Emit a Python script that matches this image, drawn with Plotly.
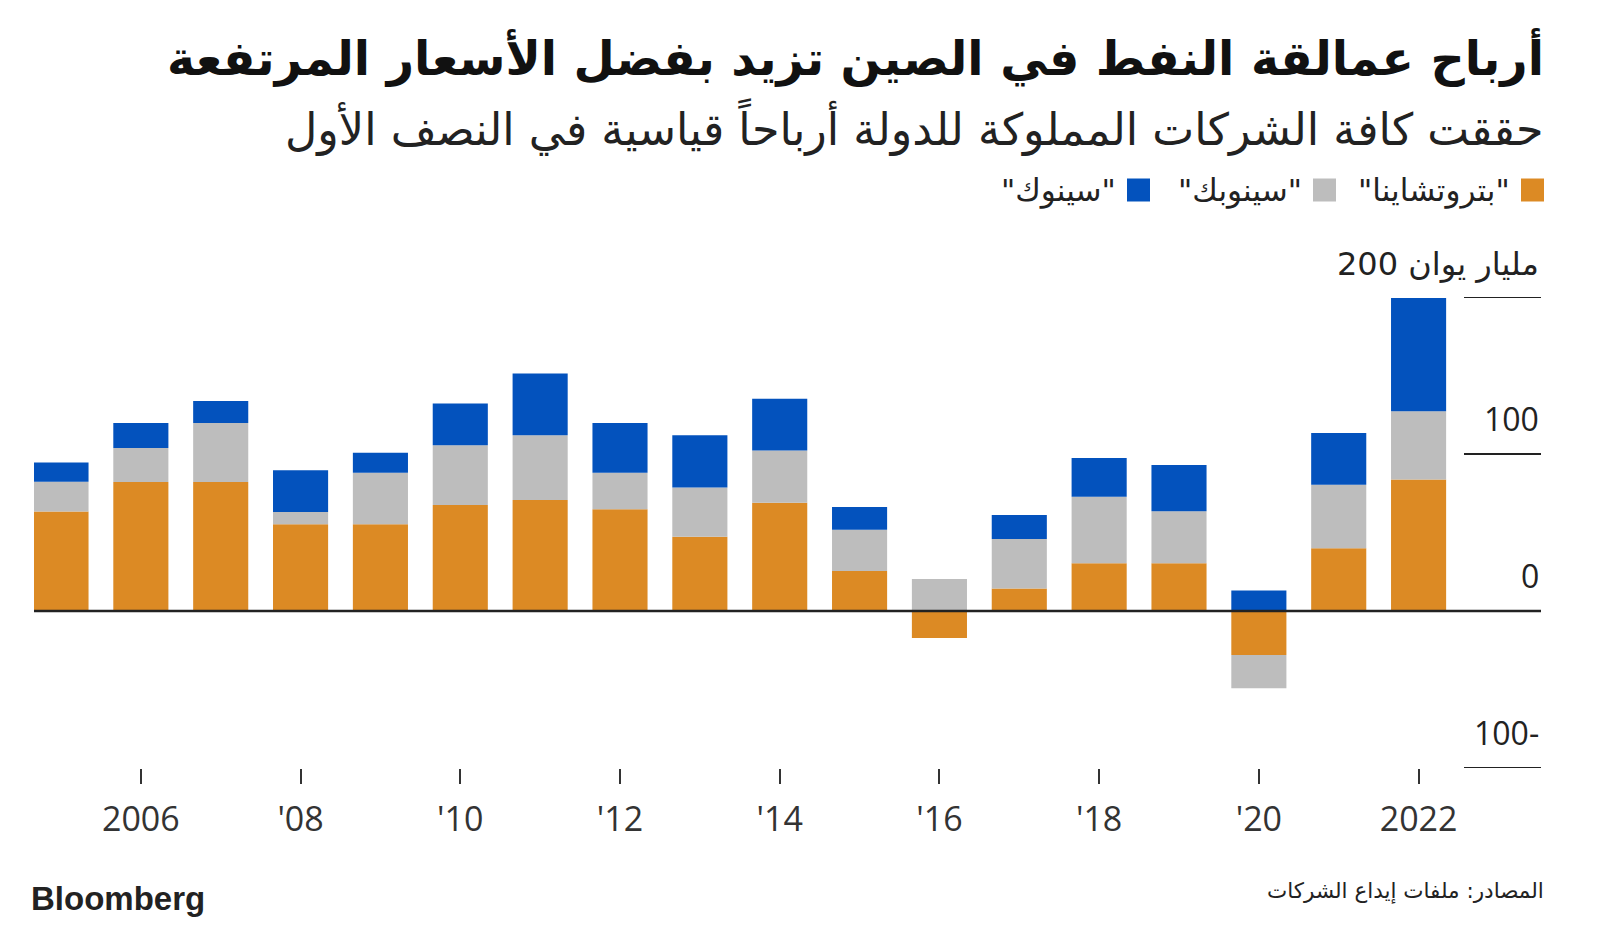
import plotly.graph_objects as go

years = list(range(2005, 2023))
petrochina = [63.3, 82.2, 82.2, 55.2, 55.2, 67.5, 70.7, 64.8, 47.3, 69.0, 25.5, -17.2, 14.4, 30.4, 30.4, -28.0, 39.9, 83.8]
sinopec = [19.0, 21.6, 37.5, 7.9, 32.9, 38.0, 41.2, 23.3, 31.3, 33.3, 26.3, 20.4, 31.5, 42.4, 33.1, -21.2, 40.5, 43.4]
cnooc = [12.3, 15.9, 14.1, 26.5, 12.7, 26.6, 39.3, 31.6, 33.3, 32.9, 14.4, 0.0, 15.3, 24.7, 29.5, 13.1, 32.9, 72.2]

series_names = ['"بتروتشاينا"', '"سينوبك"', '"سينوك"']
series_colors = ["#DC8A24", "#BDBDBD", "#0352BD"]

xtick_vals = [2006, 2008, 2010, 2012, 2014, 2016, 2018, 2020, 2022]
xtick_text = ["2006", "'08", "'10", "'12", "'14", "'16", "'18", "'20", "2022"]

ytick_vals = [200, 100, 0, -100]
ytick_text = ["مليار يوان 200", "100", "0", "100-"]

title = "أرباح عمالقة النفط في الصين تزيد بفضل الأسعار المرتفعة"
subtitle = "حققت كافة الشركات المملوكة للدولة أرباحاً قياسية في النصف الأول"
source = "المصادر: ملفات إيداع الشركات"

# page body has an 8px margin; work in screen pixels
OFF = 8
W, H = 1600 - OFF, 929 - OFF
PLOT_L, PLOT_R, PLOT_T, PLOT_B = 34, 1541, 297, 768  # screen coords
L = PLOT_L - OFF
R = W - (PLOT_R - OFF)
T = PLOT_T - OFF
B = H - (PLOT_B - OFF)
PW, PH = PLOT_R - PLOT_L, PLOT_B - PLOT_T


def px(x):
    return (x - PLOT_L) / PW


def py(y):
    return (PLOT_B - y) / PH


AR_FONT = "DejaVu Sans"
NUM_FONT = "Open Sans"

fig = go.Figure()
for name, vals, col in zip(series_names, [petrochina, sinopec, cnooc], series_colors):
    fig.add_trace(go.Bar(x=years, y=vals, name=name, marker=dict(color=col, line=dict(width=0)),
                         showlegend=False))

fig.update_layout(
    width=W, height=H,
    template="none",
    paper_bgcolor="white", plot_bgcolor="white",
    margin=dict(l=L, r=R, t=T, b=B),
    barmode="relative",
    bargap=0.31,
    showlegend=False,
    xaxis=dict(range=[2004.662, 2023.533], tickvals=xtick_vals, ticktext=xtick_text,
               ticks="outside", ticklen=15, tickwidth=2, tickcolor="#333333",
               ticklabelstandoff=6,
               showgrid=False, showline=False, zeroline=False,
               tickfont=dict(family=NUM_FONT, size=34, color="#333333")),
    yaxis=dict(range=[-100, 200], showticklabels=False, showgrid=False, zeroline=False,
               showline=False, ticks=""),
)

shapes = []
for v in ytick_vals:
    if v == 0:
        shapes.append(dict(type="line", xref="paper", yref="y", x0=0, x1=1, y0=0, y1=0,
                           line=dict(color="#222222", width=2.5), layer="above"))
    else:
        shapes.append(dict(type="line", xref="paper", yref="y", x0=px(1464), x1=1, y0=v, y1=v,
                           line=dict(color="#222222", width=2), layer="above"))

annotations = []
for v, t in zip(ytick_vals, ytick_text):
    annotations.append(dict(x=1, y=v, xref="paper", yref="y", xanchor="right", yanchor="bottom",
                            yshift=12, text=t, showarrow=False,
                            font=dict(family=NUM_FONT if v != 200 else AR_FONT, size=32, color="#222222")))

annotations.append(dict(x=px(1546), y=py(58), xref="paper", yref="paper", xanchor="right", yanchor="middle",
                        text="<b>" + title + "</b>", showarrow=False,
                        font=dict(family=AR_FONT, size=47.5, color="#111111")))
annotations.append(dict(x=px(1546), y=py(127), xref="paper", yref="paper", xanchor="right", yanchor="middle",
                        text=subtitle, showarrow=False,
                        font=dict(family=AR_FONT, size=44.5, color="#222222")))

# legend (right-to-left)
legend_sq_right = [1544, 1336, 1150]
sq = 23
for name, col, xr in zip(series_names, series_colors, legend_sq_right):
    shapes.append(dict(type="rect", xref="paper", yref="paper", x0=px(xr - sq), x1=px(xr),
                       y0=py(190 + sq / 2), y1=py(190 - sq / 2), fillcolor=col, line=dict(width=0)))
    annotations.append(dict(x=px(xr - sq - 9), y=py(190), xref="paper", yref="paper",
                            xanchor="right", yanchor="middle", text=name, showarrow=False,
                            font=dict(family=AR_FONT, size=31, color="#222222")))

annotations.append(dict(x=px(29), y=py(898), xref="paper", yref="paper", xanchor="left", yanchor="middle",
                        text="<b>Bloomberg</b>", showarrow=False,
                        font=dict(family="Liberation Sans", size=33, color="#222222")))
annotations.append(dict(x=px(1546), y=py(891), xref="paper", yref="paper", xanchor="right", yanchor="middle",
                        text=source, showarrow=False,
                        font=dict(family=AR_FONT, size=21.5, color="#222222")))

fig.update_layout(shapes=shapes, annotations=annotations)
fig.write_html("out.html")
